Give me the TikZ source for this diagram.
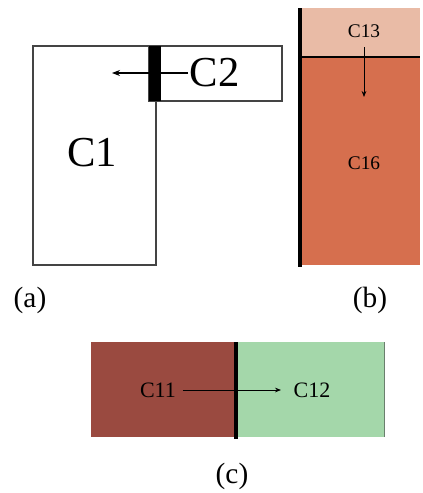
\documentclass[tikz,border=0pt]{standalone}
\usepackage{fontspec}
\setmainfont{Liberation Serif}
\usetikzlibrary{arrows.meta}
\definecolor{peach}{HTML}{E9BBA6}
\definecolor{orng}{HTML}{D66F4E}
\definecolor{brick}{HTML}{9A4A40}
\definecolor{mint}{HTML}{A4D7AA}
\definecolor{edge}{HTML}{444444}
\tikzset{
  box/.style={draw=edge, line width=0.9pt},
  big/.style={font=\fontsize{32}{36}\selectfont, inner sep=1pt},
  lab/.style={font=\fontsize{22}{26}\selectfont, inner sep=0pt},
  small/.style={font=\fontsize{14.5}{17}\selectfont, inner sep=1pt},
  mid/.style={font=\fontsize{16.5}{19}\selectfont, inner sep=1pt},
  arr/.style={-{Stealth[length=6pt,width=4.5pt]}, line width=0.8pt},
  sarr/.style={-{Stealth[length=4.5pt,width=3.5pt]}, line width=0.6pt},
}
\begin{document}
\begin{tikzpicture}[x=0.75pt,y=-0.75pt]
\useasboundingbox (0,0) rectangle (422,493);
% (a)
\draw[box] (33,46) rectangle (156,265);
\draw[box] (149,46) rectangle (282,101);
\fill[black] (149,46) rectangle (161,101);
\node[big] (c1) at (92,153) {C1};
\node[big, anchor=west] (c2) at (188,73) {C2};
\coordinate (a2) at (112,73);
\draw[arr] (c2.west) -- (a2);
\node[lab] (la) at (30,300) {(a)};
% (b)
\fill[orng] (300,57) rectangle (420,265);
\fill[peach] (300,8) rectangle (420,57);
\draw[line width=2.2pt] (300,57) -- (420,57);
\draw[line width=3.2pt] (300,8) -- (300,267);
\node[small] (c13) at (364,31) {C13};
\node[small] (c16) at (364,163) {C16};
\coordinate (b1) at (364,47);
\coordinate (b2) at (364,97);
\draw[sarr] (b1) -- (b2);
\node[lab] (lb) at (370,300) {(b)};
% (c)
\fill[brick] (91,342) rectangle (236,437);
\fill[mint] (236,342) rectangle (384,437);
\draw[edge!60!mint, line width=0.6pt] (384,342) -- (384,437);
\draw[line width=2.6pt] (236,342) -- (236,439);
\node[mid] (c11) at (158,390) {C11};
\node[mid] (c12) at (312,390) {C12};
\coordinate (c2e) at (281,390);
\draw[sarr] ([xshift=4pt]c11.east) -- (c2e);
\node[lab] (lc) at (232,476) {(c)};
\end{tikzpicture}
\end{document}
